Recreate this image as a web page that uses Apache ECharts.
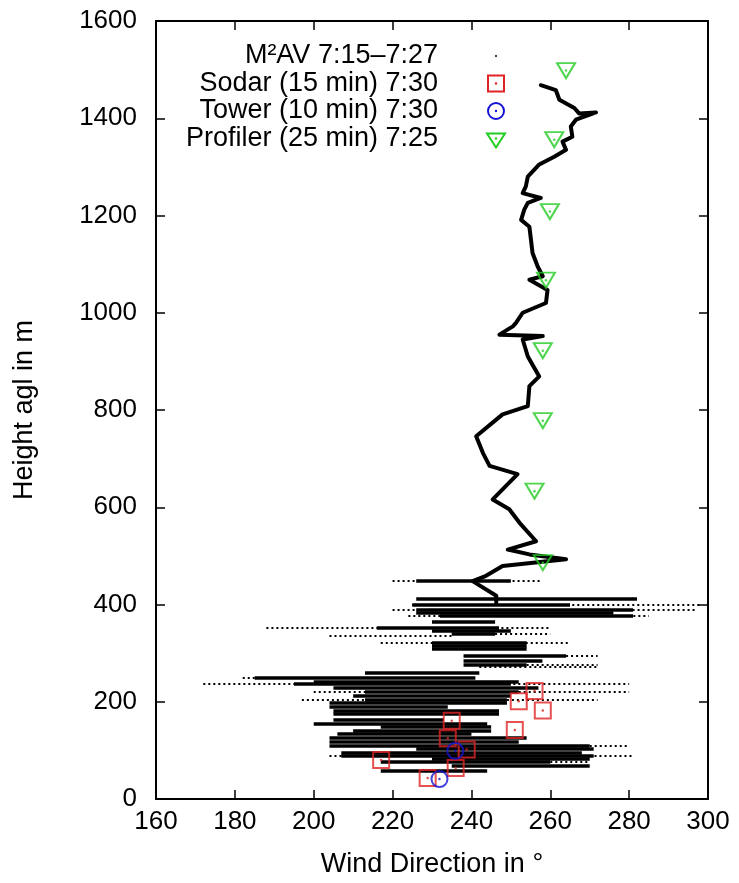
<!DOCTYPE html>
<html>
<head>
<meta charset="utf-8">
<script src="https://cdn.jsdelivr.net/npm/echarts@6/dist/echarts.min.js"></script>
<style>
  html, body { margin: 0; padding: 0; background: #fff; }
  #chart { width: 739px; height: 883px; }
</style>
</head>
<body>
<div id="chart"></div>
<script>
// ---------------- data ----------------
// M2AV continuous trace above ~400 m
const traceDir = [257.6, 261.4, 262.3, 266.1, 267.3, 271.6, 266.5, 265.2, 265.6, 263.1,
  264.0, 261.0, 257.2, 255.9, 254.3, 253.8, 253.0, 257.6, 254.3, 253.4,
  252.6, 254.7, 255.1, 255.5, 256.8, 258.1, 254.7, 259.3, 258.9, 253.0,
  251.3, 250.5, 247.1, 258.1, 253.0, 254.3, 257.2, 254.7, 254.3, 247.9,
  241.2, 242.9, 244.6, 251.7, 245.4, 249.6, 252.2, 256.4, 249.2, 254.7,
  264.0, 247.9, 243.7, 240.3, 246.3, 246.3];
const traceHeight = [1468, 1458, 1438, 1421, 1410, 1412, 1397, 1383, 1362, 1352,
  1335, 1321, 1305, 1294, 1280, 1260, 1246, 1236, 1226, 1212,
  1191, 1177, 1150, 1123, 1095, 1075, 1068, 1047, 1020, 1000,
  979, 972, 955, 952, 945, 910, 869, 849, 808, 791,
  746, 712, 685, 668, 616, 596, 568, 530, 513, 503,
  493, 479, 459, 448, 418, 404];

// M2AV scattered samples below ~450 m: dense horizontal bands
const denseHeight = [448, 411, 400, 390, 383, 376, 364, 353, 345, 339, 322, 315, 308, 294, 285, 277,
  260, 250, 242, 236, 228, 220, 212, 205, 197, 189, 182, 175, 164, 154, 148, 140, 134, 125, 118,
  109, 103, 95, 88, 82, 76, 68, 58];
const denseFrom = [226, 226, 225, 226, 226, 232, 230, 216, 230, 235, 230, 230, 230, 238, 238, 238,
  213, 185, 200, 195, 205, 213, 210, 213, 204, 204, 205, 205, 205, 200, 217, 210, 206, 204, 204,
  204, 226, 207, 207, 230, 217, 235, 217];
const denseTo = [250, 282, 265, 281, 276, 281, 246, 247, 250, 246, 254, 254, 254, 264, 258, 254,
  242, 241, 252, 250, 257, 252, 250, 249, 249, 234, 247, 247, 233, 244, 245, 245, 240, 254, 252,
  270, 271, 268, 271, 270, 260, 270, 244];
// M2AV scattered samples: sparse outliers
const sparseHeight = [448, 400, 390, 376, 353, 339, 335, 322, 294, 277, 273, 250, 236, 220, 205, 109, 88, 76];
const sparseFrom = [220, 225, 220, 224, 188, 246, 204, 217, 264, 254, 242, 182, 172, 200, 197, 270, 204, 260];
const sparseTo = [258, 298, 297, 285, 260, 260, 235, 265, 272, 272, 272, 185, 280, 280, 272, 280, 281, 270];

const sodarDir = [217.1, 228.9, 236.0, 238.8, 234.0, 235.0, 251.0, 258.1, 252.0, 256.0];
const sodarHeight = [80, 43, 64, 102, 125, 161, 142, 182, 201, 222];
const towerDir = [231.9, 235.9];
const towerHeight = [41, 99];
const profilerDir = [264.0, 261.0, 259.9, 258.9, 258.1, 258.1, 256.0, 258.1];
const profilerHeight = [1498, 1356, 1208, 1067, 922, 778, 633, 486];

const xTicks = { min: 160, max: 300, step: 20 };
const yTicks = { min: 0, max: 1600, step: 200 };
const legendLabels = ['M\u00B2AV 7:15\u20137:27', 'Sodar (15 min) 7:30', 'Tower (10 min) 7:30', 'Profiler (25 min) 7:25'];
const xTitle = 'Wind Direction in \u00B0';
const yTitle = 'Height agl in m';

// ---------------- chart ----------------
const FONT = '"Liberation Sans", Arial, Helvetica, sans-serif';
const RED = '#e02424', BLUE = '#1414d2', GREEN = '#22cc22';
const pairs = (xs, ys) => xs.map((x, i) => [x, ys[i]]);
const segs = (hs, a, b) => hs.map((h, i) => ({ coords: [[a[i], h], [b[i], h]] }));
const plain = (v) => String(v);

function axisX(pos, showLabel) {
  return {
    type: 'value', position: pos, min: xTicks.min, max: xTicks.max, interval: xTicks.step,
    name: showLabel ? xTitle : '', nameLocation: 'middle', nameGap: 52,
    nameTextStyle: { fontFamily: FONT, fontSize: 27, color: '#000' },
    axisLine: { show: true, onZero: false, lineStyle: { color: '#000', width: 2 } },
    axisTick: { show: true, inside: true, length: 9, lineStyle: { color: '#000', width: 1.5 } },
    axisLabel: { show: showLabel, fontFamily: FONT, fontSize: 26, color: '#000', margin: 10, formatter: plain },
    splitLine: { show: false }
  };
}
function axisY(pos, showLabel) {
  return {
    type: 'value', position: pos, min: yTicks.min, max: yTicks.max, interval: yTicks.step,
    name: showLabel ? yTitle : '', nameLocation: 'middle', nameGap: 118,
    nameTextStyle: { fontFamily: FONT, fontSize: 27, color: '#000' },
    axisLine: { show: true, onZero: false, lineStyle: { color: '#000', width: 2 } },
    axisTick: { show: true, inside: true, length: 9, lineStyle: { color: '#000', width: 1.5 } },
    axisLabel: { show: showLabel, fontFamily: FONT, fontSize: 26, color: '#000', margin: 19, formatter: plain },
    splitLine: { show: false }
  };
}

const hollow = (color) => ({ color: 'rgba(0,0,0,0)', borderColor: color, borderWidth: 2 });
const dots = (data, color) => ({
  type: 'scatter', data, symbol: 'circle', symbolSize: 2.5, z: 6,
  itemStyle: { color }, silent: true
});

const lx = 496, ly0 = 56, lgap = 27.5;
const legendGraphics = [];
legendLabels.forEach((t, i) => {
  legendGraphics.push({
    type: 'text', x: 438, y: ly0 + i * lgap, z: 100,
    style: { text: t, fontFamily: FONT, fontSize: 27, fill: '#000', align: 'right', verticalAlign: 'middle' }
  });
});
legendGraphics.push(
  { type: 'circle', z: 100, shape: { cx: lx, cy: ly0, r: 1 }, style: { fill: '#000' } },
  { type: 'rect', z: 100, shape: { x: lx - 8, y: ly0 + lgap - 8, width: 16, height: 16 }, style: { fill: 'none', stroke: RED, lineWidth: 2 } },
  { type: 'circle', z: 100, shape: { cx: lx, cy: ly0 + lgap, r: 1.2 }, style: { fill: RED } },
  { type: 'circle', z: 100, shape: { cx: lx, cy: ly0 + 2 * lgap, r: 8 }, style: { fill: 'none', stroke: BLUE, lineWidth: 2 } },
  { type: 'circle', z: 100, shape: { cx: lx, cy: ly0 + 2 * lgap, r: 1.2 }, style: { fill: BLUE } },
  { type: 'polygon', z: 100, shape: { points: [[lx - 9, ly0 + 3 * lgap - 5], [lx + 9, ly0 + 3 * lgap - 5], [lx, ly0 + 3 * lgap + 9]] }, style: { fill: 'none', stroke: GREEN, lineWidth: 2 } },
  { type: 'circle', z: 100, shape: { cx: lx, cy: ly0 + 3 * lgap, r: 1.2 }, style: { fill: GREEN } }
);

const option = {
  animation: false,
  backgroundColor: '#fff',
  textStyle: { fontFamily: FONT },
  grid: { left: 156, right: 31, top: 21, bottom: 82 },
  xAxis: [axisX('bottom', true), axisX('top', false)],
  yAxis: [axisY('left', true), axisY('right', false)],
  graphic: legendGraphics,
  series: [
    {
      name: 'M2AV sparse', type: 'lines', coordinateSystem: 'cartesian2d', z: 2, silent: true,
      data: segs(sparseHeight, sparseFrom, sparseTo),
      lineStyle: { color: '#000', width: 2, type: [2, 3], opacity: 1 }
    },
    {
      name: 'M2AV dense', type: 'lines', coordinateSystem: 'cartesian2d', z: 3, silent: true,
      data: segs(denseHeight, denseFrom, denseTo),
      lineStyle: { color: '#000', width: 3.5, opacity: 1 }
    },
    {
      name: 'M2AV', type: 'line', z: 4, data: pairs(traceDir, traceHeight),
      showSymbol: false, symbol: 'none', silent: true,
      lineStyle: { color: '#000', width: 4, join: 'round', cap: 'round' }
    },
    {
      name: 'Sodar', type: 'scatter', z: 5, data: pairs(sodarDir, sodarHeight),
      symbol: 'rect', symbolSize: 16, itemStyle: hollow(RED)
    },
    dots(pairs(sodarDir, sodarHeight), RED),
    {
      name: 'Tower', type: 'scatter', z: 5, data: pairs(towerDir, towerHeight),
      symbol: 'circle', symbolSize: 16, itemStyle: hollow(BLUE)
    },
    dots(pairs(towerDir, towerHeight), BLUE),
    {
      name: 'Profiler', type: 'scatter', z: 5, data: pairs(profilerDir, profilerHeight),
      symbol: 'triangle', symbolRotate: 180, symbolSize: [18, 15], itemStyle: hollow(GREEN)
    },
    dots(pairs(profilerDir, profilerHeight), GREEN)
  ]
};

const chart = echarts.init(document.getElementById('chart'), null, { renderer: 'canvas' });
chart.setOption(option);
</script>
</body>
</html>
